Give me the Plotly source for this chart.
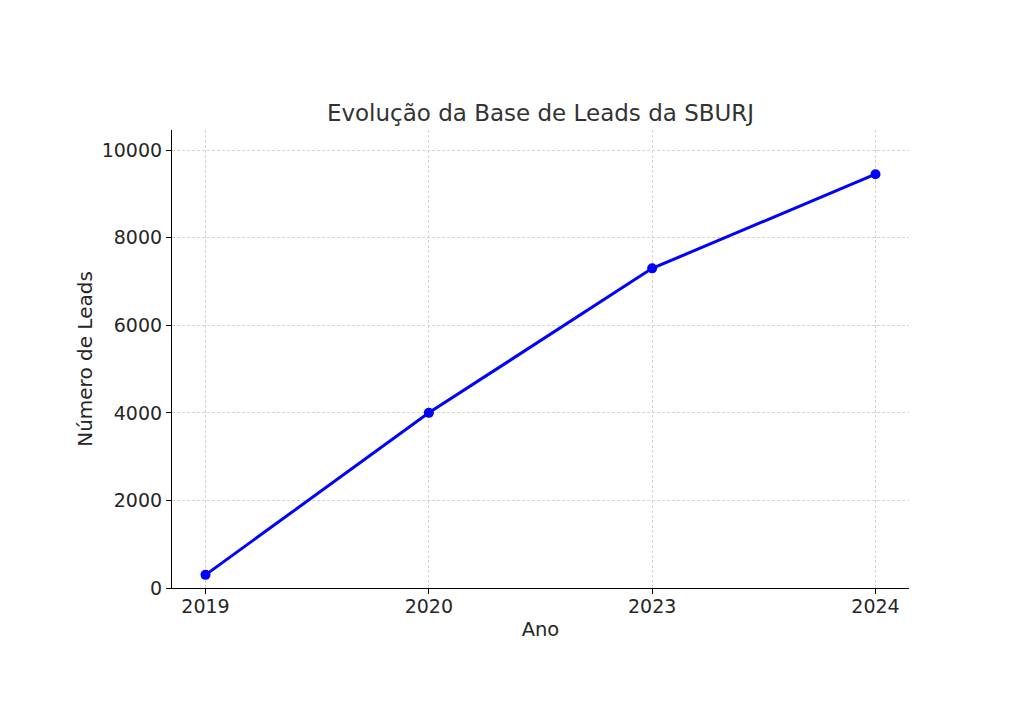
import plotly.graph_objects as go

anos = ["2019", "2020", "2023", "2024"]
leads = [300, 4000, 7300, 9450]
y_ticks = [0, 2000, 4000, 6000, 8000, 10000]
y_labels = ["0", "2000", "4000", "6000", "8000", "10000"]

fig = go.Figure()
fig.add_trace(go.Scatter(x=anos, y=leads, mode="lines+markers",
                         line=dict(color="#0000ff", width=3),
                         marker=dict(color="#0000ff", size=10)))

# page has an 8px body margin, so shift the plot area back
fig.update_layout(
    width=1024, height=720,
    margin=dict(l=164, r=123, t=122, b=140),
    paper_bgcolor="white", plot_bgcolor="white",
    font=dict(family="DejaVu Sans", size=19, color="#262626"),
    title=dict(text="Evolução da Base de Leads da SBURJ", xref="paper", x=0.5, xanchor="center",
               y=1 - 105 / 720, yanchor="middle", font=dict(size=23, color="#333333")),
    showlegend=False,
)
grid = dict(showgrid=True, gridcolor="#d4d4d4", griddash="3px,2px", gridwidth=0.8,
            showline=True, linecolor="black", linewidth=1.2,
            ticks="outside", ticklen=5, tickcolor="black", zeroline=False)
fig.update_xaxes(type="category", range=[-0.15, 3.15], ticklabelstandoff=-4,
                 title=dict(text="Ano", standoff=6, font=dict(size=19.5)), **grid)
fig.update_yaxes(range=[0, 10460], tickvals=y_ticks, ticktext=y_labels,
                 title=dict(text="Número de Leads", standoff=3, font=dict(size=20)), **grid)

fig.write_html("out.html")
